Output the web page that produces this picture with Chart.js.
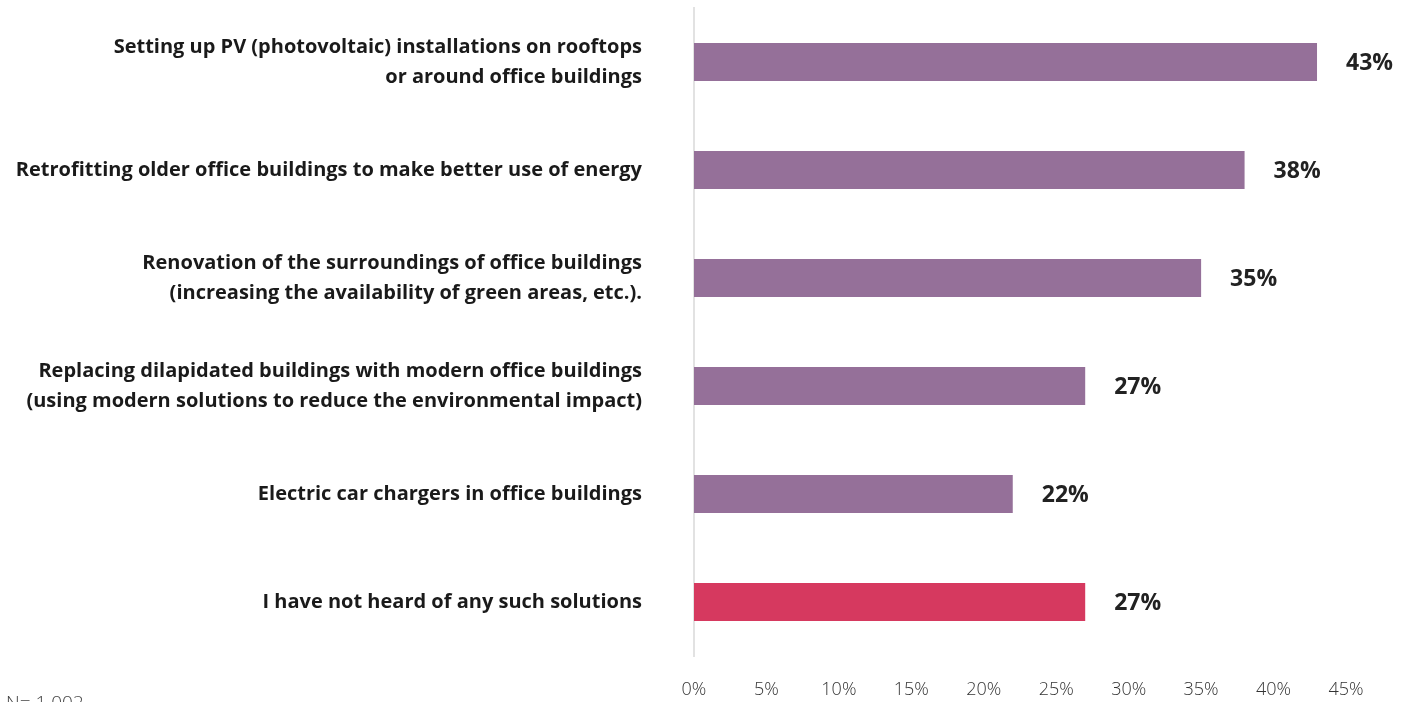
<!DOCTYPE html>
<html>
<head>
<meta charset="utf-8">
<script src="https://cdn.jsdelivr.net/npm/chart.js@4/dist/chart.umd.min.js"></script>
<style>
  html, body { margin: 0; padding: 0; background: #fff; }
  #wrap { width: 1408px; height: 702px; position: relative; }
</style>
</head>
<body>
<div id="wrap"><canvas id="solutionsChart"></canvas></div>
<script>
const categories = [
  ['Setting up PV (photovoltaic) installations on rooftops', 'or around office buildings'],
  'Retrofitting older office buildings to make better use of energy',
  ['Renovation of the surroundings of office buildings', '(increasing the availability of green areas, etc.).'],
  ['Replacing dilapidated buildings with modern office buildings', '(using modern solutions to reduce the environmental impact)'],
  'Electric car chargers in office buildings',
  'I have not heard of any such solutions'
]
const shares = [43, 38, 35, 27, 22, 27]
const barColors = ['#957099', '#957099', '#957099', '#957099', '#957099', '#d6395f']
const xTicks = [0, 5, 10, 15, 20, 25, 30, 35, 40, 45]
const sampleNote = 'N= 1 002'

// percent labels to the right of each bar
const valueLabels = {
  id: 'valueLabels',
  afterDatasetsDraw(chart) {
    const ctx = chart.ctx
    const meta = chart.getDatasetMeta(0)
    ctx.save()
    ctx.font = 'bold 23px "Open Sans", sans-serif'
    ctx.fillStyle = '#222'
    ctx.textAlign = 'left'
    ctx.textBaseline = 'middle'
    meta.data.forEach((bar, i) => {
      ctx.fillText(shares[i] + '%', bar.x + 29, bar.y + 1)
    })
    ctx.restore()
  }
}

// sample size note in the bottom left corner
const footNote = {
  id: 'footNote',
  afterDraw(chart) {
    const ctx = chart.ctx
    ctx.save()
    ctx.font = '300 19px "Open Sans", sans-serif'
    ctx.fillStyle = '#444'
    ctx.textBaseline = 'top'
    ctx.fillText(sampleNote, 6, 694)
    ctx.restore()
  }
}

new Chart(document.getElementById('solutionsChart'), {
  type: 'bar',
  data: {
    labels: categories,
    datasets: [{
      data: shares,
      backgroundColor: barColors,
      barPercentage: 0.35,
      categoryPercentage: 1
    }]
  },
  options: {
    indexAxis: 'y',
    responsive: true,
    maintainAspectRatio: false,
    animation: false,
    layout: { padding: { top: 8, right: 62, left: 0, bottom: 0 } },
    plugins: {
      legend: { display: false },
      tooltip: { enabled: false }
    },
    scales: {
      x: {
        min: 0,
        max: 45,
        afterFit(scale) {
          scale.height = 46
          scale.paddingLeft = 0
          scale.paddingRight = 0
        },
        afterBuildTicks(scale) { scale.ticks = xTicks.map(v => ({ value: v })) },
        grid: { display: false, drawTicks: false },
        border: { display: false },
        ticks: {
          padding: 23,
          color: '#333',
          font: { family: '"Open Sans", sans-serif', size: 18, weight: '300' },
          callback: v => v + '%'
        }
      },
      y: {
        afterFit(scale) {
          scale.width = 694
          scale.paddingTop = 0
          scale.paddingBottom = 0
        },
        grid: { display: false, drawTicks: false },
        border: { display: true, color: '#e2e2e2', width: 2 },
        ticks: {
          padding: 52,
          color: '#1a1a1a',
          font: { family: '"Open Sans", sans-serif', size: 20, weight: '700', lineHeight: 1.5 }
        }
      }
    }
  },
  plugins: [valueLabels, footNote]
})
</script>
</body>
</html>
